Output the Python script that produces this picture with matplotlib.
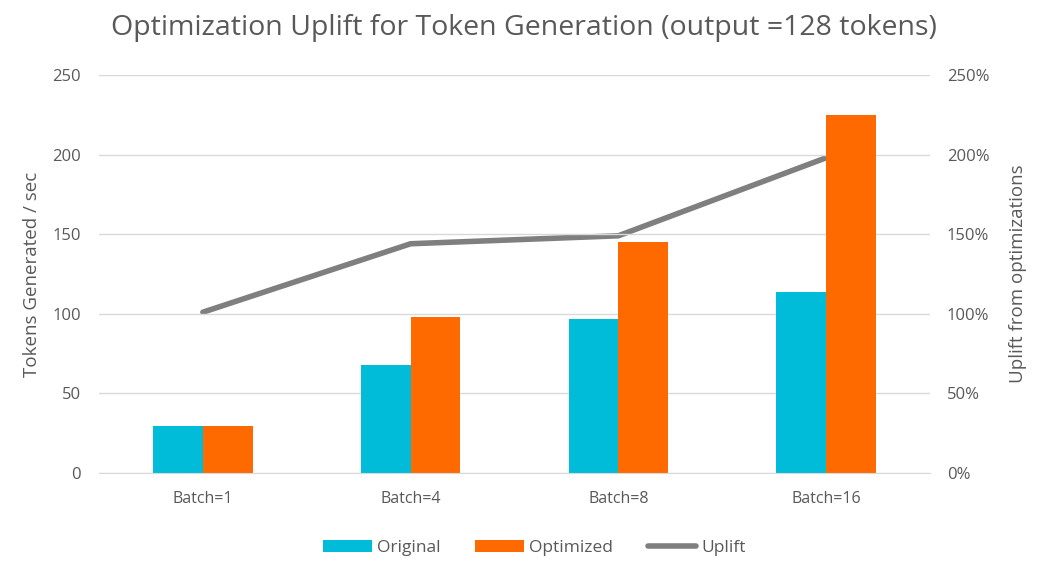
import matplotlib.pyplot as plt
import numpy as np
from matplotlib.ticker import FuncFormatter

plt.rcParams['font.family'] = ['Open Sans', 'DejaVu Sans']

# data
batches = ["Batch=1", "Batch=4", "Batch=8", "Batch=16"]
original = [29.5, 68, 97, 114]
optimized = [29.5, 98, 145, 225]
uplift = [1.01, 1.44, 1.49, 1.98]

c_orig = "#00BCD8"
c_opt = "#FF6A00"
c_line = "#7F7F7F"
c_text = "#595959"
c_grid = "#D9D9D9"

fig = plt.figure(figsize=(10.48, 5.75), dpi=100)
ax = fig.add_axes([99/1048, 1 - 473/575, (930-99)/1048, (473-75)/575])
ax2 = ax.twinx()

x = np.arange(len(batches))
w = 0.24

# line behind bars
ax.set_zorder(2)
ax.patch.set_visible(False)
ax2.set_zorder(1)
ax2.plot(x, uplift, color=c_line, lw=4, solid_capstyle='round', label="Uplift")
ax2.set_ylim(0, 2.5)
ax2.set_yticks(np.arange(0, 2.51, 0.5))
ax2.yaxis.set_major_formatter(FuncFormatter(lambda v, p: f"{v*100:.0f}%"))

b1 = ax.bar(x - w/2, original, w, color=c_orig, label="Original")
b2 = ax.bar(x + w/2, optimized, w, color=c_opt, label="Optimized")
ax.set_ylim(0, 250)
ax.set_yticks(np.arange(0, 251, 50))
ax.set_xlim(-0.5, 3.5)
ax.set_xticks(x)
ax.set_xticklabels(batches)
ax.grid(axis='y', color=c_grid, lw=1)
ax.set_axisbelow(True)

for a in (ax, ax2):
    for s in a.spines.values():
        s.set_visible(False)
    a.tick_params(length=0, colors=c_text, labelsize=12)
ax.tick_params(axis='x', labelsize=11.5, pad=13)
ax.tick_params(axis='y', pad=13)
ax2.tick_params(axis='y', pad=12)
ax.spines['bottom'].set_visible(True)
ax.spines['bottom'].set_color(c_grid)

ax.set_ylabel("Tokens Generated / sec", color=c_text, fontsize=13.5, labelpad=8)
ax2.set_ylabel("Uplift from optimizations", color=c_text, fontsize=13.5, labelpad=14)

fig.suptitle("Optimization Uplift for Token Generation (output =128 tokens)",
             color=c_text, fontsize=20.5, y=0.975)

handles = [b1, b2, ax2.get_lines()[0]]
fig.legend(handles, ["Original", "Optimized", "Uplift"], loc='center',
           bbox_to_anchor=(0.51, 0.047), ncol=3, frameon=False, fontsize=12.5,
           labelcolor=c_text, handlelength=2.8, handleheight=0.7, columnspacing=2.0,
           handletextpad=0.3)

fig.savefig("out.png", dpi=100)
